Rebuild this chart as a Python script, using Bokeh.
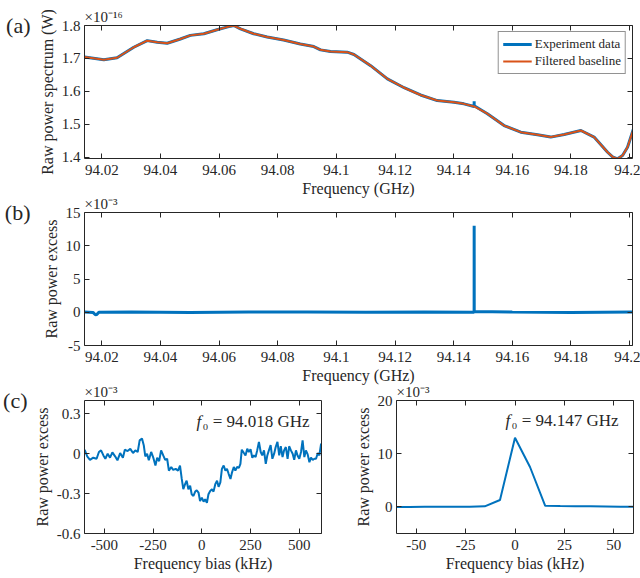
from bokeh.plotting import figure
from bokeh.models import (Range1d, LinearAxis, FixedTicker, NumeralTickFormatter,
                          CustomJSTickFormatter, Label, Legend, LegendItem)
from bokeh.layouts import column, row
from bokeh.embed import file_html
from bokeh.resources import INLINE

FONT = "Liberation Serif"
AX = "#262626"
BLUE = "#0072BD"
ORANGE = "#D95319"

# ---------------- data ----------------
# (a) raw power spectrum, units of 1e-16 W
a_freq = [94.0141, 94.0207, 94.0252, 94.0309, 94.0355, 94.0389, 94.0423, 94.0468,
          94.0502, 94.0548, 94.0593, 94.0639, 94.0650, 94.0673, 94.0718, 94.0764,
          94.0820, 94.0877, 94.0923, 94.0946, 94.0980, 94.1037, 94.1060, 94.1117,
          94.1174, 94.1231, 94.1287, 94.1344, 94.1401, 94.1435, 94.1470, 94.1515,
          94.1572, 94.1629, 94.1686, 94.1731, 94.1777, 94.1834, 94.1879, 94.1925,
          94.1942, 94.1959, 94.1976, 94.1993, 94.2016]
a_base = [1.704, 1.696, 1.702, 1.734, 1.754, 1.749, 1.746, 1.759,
          1.770, 1.775, 1.787, 1.798, 1.800, 1.790, 1.775, 1.765,
          1.756, 1.744, 1.736, 1.726, 1.721, 1.719, 1.712, 1.678,
          1.638, 1.611, 1.589, 1.572, 1.567, 1.562, 1.554, 1.532,
          1.496, 1.476, 1.468, 1.461, 1.469, 1.481, 1.461, 1.415,
          1.401, 1.395, 1.405, 1.430, 1.493]
a_spike_freq = [94.14699, 94.14700, 94.14701]
a_spike_val = [1.554, 1.570, 1.556]

# (b) raw power excess, units of 1e-3
b_freq = [94.0141, 94.0170, 94.0178, 94.0183, 94.0190, 94.0300, 94.0500, 94.0700,
          94.0900, 94.1100, 94.1300, 94.14697, 94.14698, 94.14699, 94.14700,
          94.14701, 94.14702, 94.14703, 94.1600, 94.1800, 94.2016]
b_excess = [0.02, -0.03, -0.37, -0.33, 0.01, 0.03, -0.02, 0.02,
            0.04, -0.01, 0.02, 0.0, 0.1, 1.3, 13.0,
            7.5, 0.2, 0.1, 0.02, -0.02, 0.03]

# (c) left: f0 = 94.018 GHz, bias in kHz, excess in 1e-3
cl_bias = [-609, -600, -588, -574, -557, -540, -528, -517, -505, -495, -483, -471,
           -459, -445, -433, -419, -405, -395, -381, -367, -353, -341, -329, -319,
           -307, -298, -290, -281, -272, -260, -250, -238, -229, -219, -209, -198,
           -188, -178, -169, -157, -147, -134, -122, -112, -103, -95, -86, -78,
           -69, -60, -52, -43, -34, -26, -17, -9, 0, 9, 17, 26,
           34, 43, 52, 60, 69, 78, 86, 95, 103, 112, 121, 129,
           138, 147, 155, 164, 172, 181, 190, 198, 205, 216, 224, 233,
           241, 250, 259, 267, 276, 284, 293, 302, 310, 319, 328, 336,
           345, 353, 362, 371, 379, 388, 397, 405, 414, 422, 431, 440,
           448, 457, 466, 474, 483, 491, 500, 509, 517, 526, 534, 543,
           552, 560, 569, 578, 586, 595, 603, 612, 619]
cl_excess = [0.038, 0.025, -0.020, -0.046, -0.030, -0.038, 0.013, 0.025, -0.013, -0.038, 0.000, -0.030,
             0.010, -0.020, -0.050, 0.005, -0.030, 0.030, 0.020, 0.036, 0.005, 0.025, 0.013, 0.100,
             0.114, 0.064, -0.020, 0.000, -0.050, 0.013, -0.025, -0.089, -0.030, -0.056, 0.025, -0.013,
             -0.046, -0.038, -0.127, -0.100, -0.122, -0.114, -0.127, -0.089, -0.190, -0.267, -0.229, -0.203,
             -0.267, -0.241, -0.305, -0.318, -0.285, -0.275, -0.292, -0.356, -0.330, -0.361, -0.343, -0.369,
             -0.305, -0.280, -0.267, -0.285, -0.229, -0.203, -0.249, -0.216, -0.114, -0.089, -0.127, -0.114,
             -0.153, -0.190, -0.140, -0.100, -0.127, -0.100, -0.107, -0.076, 0.030, 0.005, -0.013, 0.038,
             0.013, 0.033, -0.030, -0.013, -0.025, 0.025, 0.089, 0.013, -0.013, 0.025, -0.076, -0.013,
             0.030, 0.064, -0.038, 0.000, 0.050, 0.089, -0.013, 0.056, -0.025, 0.025, 0.050, -0.038,
             0.056, 0.025, 0.000, -0.046, 0.025, -0.013, -0.038, 0.013, 0.100, -0.025, 0.025, -0.005,
             -0.064, -0.030, -0.046, -0.038, -0.038, 0.005, -0.013, 0.076, 0.038]

# (c) right: f0 = 94.147 GHz
cr_bias = [-61.0, -53.4, -45.8, -38.1, -30.5, -22.9, -15.3, -7.6, 0.0,
           7.6, 15.3, 22.9, 30.5, 38.1, 45.8, 53.4, 61.0]
cr_excess = [0.00, 0.00, 0.02, 0.02, 0.03, 0.05, 0.10, 1.30, 13.00,
             7.50, 0.20, 0.15, 0.12, 0.10, 0.08, 0.05, 0.02]

freq_ticks = [94.02, 94.04, 94.06, 94.08, 94.10, 94.12, 94.14, 94.16, 94.18, 94.20]
a_yticks = [1.4, 1.5, 1.6, 1.7, 1.8]
b_yticks = [-5, 0, 5, 10, 15]
cl_xticks = [-500, -250, 0, 250, 500]
cl_yticks = [-0.6, -0.3, 0, 0.3]
cr_xticks = [-50, -25, 0, 25, 50]
cr_yticks = [0, 10, 20]

BLANK = CustomJSTickFormatter(code="return '';")


def style_axis(ax, labels=True, kind="x"):
    ax.axis_line_color = AX
    ax.axis_line_width = 1
    ax.major_tick_line_color = AX
    ax.major_tick_line_width = 1
    ax.major_tick_in = 5
    ax.major_tick_out = 0
    ax.minor_tick_line_color = None
    ax.major_label_text_font = FONT
    ax.major_label_text_font_size = "15px"
    ax.major_label_text_color = AX
    ax.axis_label_text_font = FONT
    ax.axis_label_text_font_size = "16px"
    ax.axis_label_text_font_style = "normal"
    ax.axis_label_text_color = AX
    if kind == "x":
        ax.major_label_standoff = 6
        ax.axis_label_standoff = 2
    else:
        ax.major_label_standoff = 4
        ax.axis_label_standoff = 3
    if not labels:
        ax.formatter = BLANK
        ax.major_label_standoff = 0


def make_fig(w, h, lb, rb, tb, bb, xr, yr, xt, yt, xfmt, yfmt, xlabel, ylabel,
             exponent, panel=None, panel_tick=None, panel_standoff=5):
    p = figure(width=w, height=h, x_range=Range1d(*xr), y_range=Range1d(*yr),
               output_backend="svg", toolbar_location=None,
               min_border_left=lb, min_border_right=rb,
               min_border_top=tb, min_border_bottom=bb,
               x_axis_label=xlabel, y_axis_label=ylabel, title=exponent)
    p.title.align = "left"
    p.title.text_font = FONT
    p.title.text_font_size = "15px"
    p.title.text_font_style = "normal"
    p.title.text_color = AX
    p.title.standoff = 1
    p.title.offset = 0
    p.xaxis.ticker = FixedTicker(ticks=xt)
    p.yaxis.ticker = FixedTicker(ticks=yt)
    p.xaxis.formatter = NumeralTickFormatter(format=xfmt)
    p.yaxis.formatter = NumeralTickFormatter(format=yfmt)
    style_axis(p.xaxis[0], True, "x")
    style_axis(p.yaxis[0], True, "y")
    top = LinearAxis(ticker=FixedTicker(ticks=xt))
    style_axis(top, False, "x")
    p.add_layout(top, "above")
    right = LinearAxis(ticker=FixedTicker(ticks=yt))
    style_axis(right, False, "y")
    p.add_layout(right, "right")
    if panel is not None:
        tag = LinearAxis(ticker=FixedTicker(ticks=[panel_tick]),
                         formatter=CustomJSTickFormatter(code="return '%s';" % panel))
        tag.axis_line_color = None
        tag.major_tick_line_color = None
        tag.minor_tick_line_color = None
        tag.major_tick_in = 0
        tag.major_tick_out = 0
        tag.major_label_standoff = panel_standoff
        tag.major_label_text_font = FONT
        tag.major_label_text_font_size = "22px"
        tag.major_label_text_color = AX
        p.add_layout(tag, "left")
    p.xgrid.visible = False
    p.ygrid.visible = False
    p.outline_line_color = None
    p.border_fill_color = None
    p.background_fill_color = "white"
    return p


def add_text(p, x, y, text, size="15px", style="normal"):
    p.add_layout(Label(x=x, y=y, x_units="screen", y_units="screen", text=text,
                       text_font=FONT, text_font_size=size, text_font_style=style,
                       text_color=AX, text_baseline="alphabetic", text_align="left"))


# ---------------- (a) ----------------
pa = make_fig(640, 205, 84, 8, 25, 47, (94.0141, 94.2010), (1.396, 1.8),
              freq_ticks, a_yticks, "0.[00]", "0.0",
              "Frequency (GHz)", "Raw power spectrum (W)", "×10⁻¹⁶",
              panel="(a)", panel_tick=1.8, panel_standoff=5)
exp_f = sorted(a_freq + a_spike_freq)
lookup = dict(zip(a_freq, a_base))
lookup.update(dict(zip(a_spike_freq, a_spike_val)))
exp_v = [lookup[f] for f in exp_f]
r_exp = pa.line(exp_f, exp_v, line_color=BLUE, line_width=3)
r_base = pa.line(a_freq, a_base, line_color=ORANGE, line_width=2)
legend = Legend(items=[LegendItem(label="Experiment data", renderers=[r_exp]),
                       LegendItem(label="Filtered baseline", renderers=[r_base])],
                location="top_right")
legend.margin = 6
legend.padding = 4
legend.spacing = 1
legend.label_height = 14
legend.glyph_height = 14
legend.glyph_width = 29
legend.label_standoff = 3
legend.label_text_font = FONT
legend.label_text_font_size = "13px"
legend.label_text_color = AX
legend.border_line_color = AX
legend.border_line_width = 1
legend.background_fill_color = "white"
legend.background_fill_alpha = 1
pa.add_layout(legend)

# ---------------- (b) ----------------
pb = make_fig(640, 205, 84, 8, 22, 50, (94.0141, 94.2010), (-5, 15),
              freq_ticks, b_yticks, "0.[00]", "0",
              "Frequency (GHz)", "Raw power excess", "×10⁻³",
              panel="(b)", panel_tick=15, panel_standoff=9)
pb.line(b_freq, b_excess, line_color=BLUE, line_width=3)
pb.margin = (-15, 0, 0, 0)

# ---------------- (c) left ----------------
pcl = make_fig(330, 203, 83, 9, 25, 45, (-602, 614), (-0.6, 0.4),
               cl_xticks, cl_yticks, "0", "0.[0]",
               "Frequency bias (kHz)", "Raw power excess", "×10⁻³",
               panel="(c)", panel_tick=0.4, panel_standoff=3)
pcl.line(cl_bias, cl_excess, line_color=BLUE, line_width=2)
add_text(pcl, 112, 112, "f", "17px", style="italic")
add_text(pcl, 118, 112, "₀ = 94.018 GHz", "17px")

# ---------------- (c) right ----------------
pcr = make_fig(310, 203, 66, 7, 25, 45, (-60, 60), (-5, 20),
               cr_xticks, cr_yticks, "0", "0",
               "Frequency bias (kHz)", "Raw power excess", "×10⁻³")
pcr.line(cr_bias, cr_excess, line_color=BLUE, line_width=2)
add_text(pcr, 109, 113, "f", "17px", style="italic")
add_text(pcr, 115, 113, "₀ = 94.147 GHz", "17px")

rc = row(pcl, pcr, spacing=0)
rc.margin = (-20, 0, 0, 0)

layout = column(pa, pb, rc, spacing=0)

open("out.html", "w").write(file_html(layout, INLINE))
